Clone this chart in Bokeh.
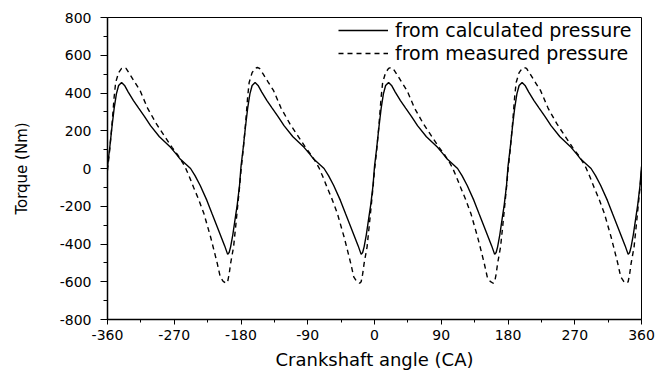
from bokeh.plotting import figure
from bokeh.models import FixedTicker, Legend, LegendItem
from bokeh.embed import file_html
from bokeh.resources import INLINE

# ---- data ----
x_ticks = [-360, -270, -180, -90, 0, 90, 180, 270, 360]
x_minor = [-315, -225, -135, -45, 45, 135, 225, 315]
y_ticks = [-800, -600, -400, -200, 0, 200, 400, 600, 800]
y_minor = [-700, -500, -300, -100, 100, 300, 500, 700]

angle_calc = [
    -360, -357, -354, -351, -348, -345, -341, -337, -332, -325, -318, -310, -302, -290, -275, -267, -262,
    -255, -248, -242, -235, -226, -219, -212, -207, -202, -198, -196, -194, -191, -188, -185, -182,
    -180, -177, -174, -171, -168, -165, -161, -157, -152, -145, -138, -130, -122, -110, -95, -87, -82,
    -75, -68, -62, -55, -46, -39, -32, -27, -22, -18, -16, -14, -11, -8, -5, -2,
    0, 3, 6, 9, 12, 15, 19, 23, 28, 35, 42, 50, 58, 70, 85, 93, 98,
    105, 112, 118, 125, 134, 141, 148, 153, 158, 162, 164, 166, 169, 172, 175, 178,
    180, 183, 186, 189, 192, 195, 199, 203, 208, 215, 222, 230, 238, 250, 265, 273, 278,
    285, 292, 298, 305, 314, 321, 328, 333, 338, 342, 344, 346, 349, 352, 355, 358, 360,
]
torque_calc = [
    10, 110, 220, 320, 395, 440, 456, 440, 405, 360, 320, 275, 227, 168, 112, 75, 50,
    25, 0, -38, -90, -169, -240, -310, -360, -410, -455, -445, -415, -350, -270, -190, -90,
    10, 110, 220, 320, 395, 440, 456, 440, 405, 360, 320, 275, 227, 168, 112, 75, 50,
    25, 0, -38, -90, -169, -240, -310, -360, -410, -455, -445, -415, -350, -270, -190, -90,
    10, 110, 220, 320, 395, 440, 456, 440, 405, 360, 320, 275, 227, 168, 112, 75, 50,
    25, 0, -38, -90, -169, -240, -310, -360, -410, -455, -445, -415, -350, -270, -190, -90,
    10, 110, 220, 320, 395, 440, 456, 440, 405, 360, 320, 275, 227, 168, 112, 75, 50,
    25, 0, -38, -90, -169, -240, -310, -360, -410, -455, -445, -415, -350, -270, -190, -90, 10,
]

angle_meas = [
    -360, -357, -354, -351, -349, -345, -341, -338, -335, -330, -324, -316, -306, -294, -282, -273, -265, -259,
    -255, -250, -244, -237, -230, -221, -216, -212, -208, -204, -200, -198, -196, -194, -190, -187, -184, -182,
    -180, -177, -174, -171, -169, -165, -161, -158, -155, -150, -144, -136, -126, -114, -102, -93, -85, -79,
    -75, -70, -64, -57, -50, -41, -36, -32, -28, -24, -20, -18, -16, -14, -10, -7, -4, -2,
    0, 3, 6, 9, 11, 15, 19, 22, 25, 30, 36, 44, 54, 66, 78, 87, 95, 101,
    105, 110, 116, 123, 130, 139, 144, 148, 152, 156, 160, 162, 164, 166, 170, 173, 176, 178,
    180, 183, 186, 189, 191, 195, 199, 202, 205, 210, 216, 224, 234, 246, 258, 267, 275, 281,
    285, 290, 296, 303, 310, 319, 324, 328, 332, 336, 340, 342, 344, 346, 350, 353, 356, 358, 360,
]
torque_meas = [
    -10, 100, 230, 380, 456, 508, 530, 535, 530, 500, 462, 412, 320, 236, 165, 112, 70, 33,
    5, -40, -99, -165, -239, -363, -440, -503, -574, -598, -608, -600, -560, -503, -415, -300, -180, -100,
    -10, 100, 230, 380, 456, 508, 530, 535, 530, 500, 462, 412, 320, 236, 165, 112, 70, 33,
    5, -40, -99, -165, -239, -363, -440, -503, -574, -598, -608, -600, -560, -503, -415, -300, -180, -100,
    -10, 100, 230, 380, 456, 508, 530, 535, 530, 500, 462, 412, 320, 236, 165, 112, 70, 33,
    5, -40, -99, -165, -239, -363, -440, -503, -574, -598, -608, -600, -560, -503, -415, -300, -180, -100,
    -10, 100, 230, 380, 456, 508, 530, 535, 530, 500, 462, 412, 320, 236, 165, 112, 70, 33,
    5, -40, -99, -165, -239, -363, -440, -503, -574, -598, -608, -600, -560, -503, -415, -300, -180, -100, -10,
]

label_calc = "from calculated pressure"
label_meas = "from measured pressure"

FONT = "DejaVu Sans"

p = figure(width=659, height=372, output_backend="svg", toolbar_location=None,
           x_range=(-360, 360), y_range=(-800, 800),
           min_border_left=107, min_border_right=18, min_border_top=17, min_border_bottom=52)

r1 = p.line(angle_calc, torque_calc, line_color="black", line_width=1.4)
r2 = p.line(angle_meas, torque_meas, line_color="black", line_width=1.4, line_dash="5 4")

p.xaxis.ticker = FixedTicker(ticks=x_ticks, minor_ticks=x_minor)
p.yaxis.ticker = FixedTicker(ticks=y_ticks, minor_ticks=y_minor)
# plain hyphen for negative numbers, as in the reference
p.xaxis.major_label_overrides = {t: str(t) for t in x_ticks}
p.yaxis.major_label_overrides = {t: str(t) for t in y_ticks}

for ax in (p.xaxis[0], p.yaxis[0]):
    ax.axis_line_width = 1.5
    ax.axis_line_color = "black"
    ax.major_tick_in = 0
    ax.minor_tick_in = 0
    ax.major_tick_line_color = "black"
    ax.minor_tick_line_color = "black"
    ax.major_tick_line_width = 1
    ax.minor_tick_line_width = 1
    ax.major_label_text_font = FONT
    ax.major_label_text_font_size = "14px"
    ax.major_label_text_color = "black"
    ax.axis_label_text_font = FONT
    ax.axis_label_text_font_style = "normal"
    ax.axis_label_text_color = "black"

p.xaxis.major_tick_out = 5
p.xaxis.minor_tick_out = 3
p.xaxis.major_label_standoff = 5
p.xaxis.axis_label = "Crankshaft angle (CA)"
p.xaxis.axis_label_text_font_size = "18px"
p.xaxis.axis_label_standoff = 6

p.yaxis.major_tick_out = 7
p.yaxis.minor_tick_out = 4
p.yaxis.major_label_standoff = 9
p.yaxis.axis_label = "Torque (Nm)"
p.yaxis.axis_label_text_font_size = "15px"
p.yaxis.axis_label_standoff = 26

p.grid.visible = False
p.outline_line_color = "black"
p.outline_line_width = 1
p.background_fill_color = "white"
p.border_fill_color = "white"

legend = Legend(items=[LegendItem(label=label_calc, renderers=[r1]),
                       LegendItem(label=label_meas, renderers=[r2])],
                location=(231, 255))
legend.border_line_alpha = 0
legend.background_fill_alpha = 0
legend.label_text_font = FONT
legend.label_text_font_size = "19px"
legend.label_text_color = "black"
legend.glyph_width = 50
legend.glyph_height = 20
legend.label_height = 20
legend.label_standoff = 7
legend.spacing = 1
legend.padding = 0
legend.margin = 0
p.add_layout(legend)

open("out.html", "w").write(file_html(p, INLINE))
